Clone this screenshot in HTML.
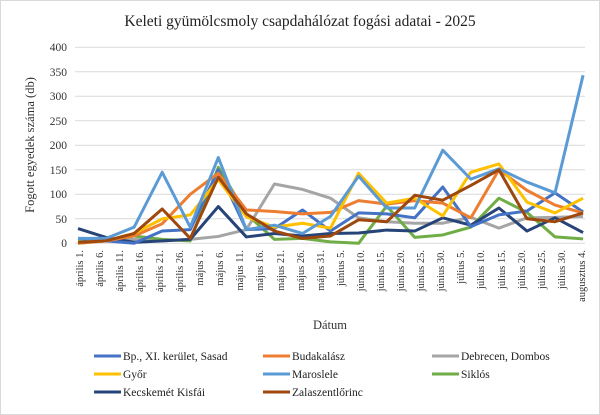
<!DOCTYPE html>
<html><head><meta charset="utf-8"><style>
html,body{margin:0;padding:0;background:#fff;}
svg{display:block;font-family:"Liberation Serif",serif;}
</style></head><body>
<svg width="600" height="415" viewBox="0 0 600 415" xmlns="http://www.w3.org/2000/svg">
<rect x="0.5" y="0.5" width="599" height="414" fill="#fff" stroke="#d9d9d9"/>
<text x="300" y="26" font-size="15.5" text-anchor="middle" fill="#222">Keleti gyümölcsmoly csapdahálózat fogási adatai - 2025</text>
<g stroke="#d9d9d9" stroke-width="1">
<line x1="75" x2="585" y1="47.3" y2="47.3"/><line x1="75" x2="585" y1="71.8" y2="71.8"/>
<line x1="75" x2="585" y1="96.3" y2="96.3"/><line x1="75" x2="585" y1="120.8" y2="120.8"/>
<line x1="75" x2="585" y1="145.3" y2="145.3"/><line x1="75" x2="585" y1="169.8" y2="169.8"/>
<line x1="75" x2="585" y1="194.3" y2="194.3"/><line x1="75" x2="585" y1="218.8" y2="218.8"/>
<line x1="75" x2="585" y1="243.3" y2="243.3"/>
</g>
<g font-size="11.5" text-anchor="end" fill="#333">
<text x="67" y="51">400</text><text x="67" y="76">350</text><text x="67" y="100">300</text>
<text x="67" y="125">250</text><text x="67" y="149">200</text><text x="67" y="174">150</text>
<text x="67" y="198">100</text><text x="67" y="223">50</text><text x="67" y="247">0</text>
</g>
<text transform="translate(34,145) rotate(-90)" font-size="12.5" text-anchor="middle" fill="#333">Fogott egyedek száma (db)</text>
<g font-size="10.5" text-anchor="end" fill="#333">
<text transform="translate(83,250) rotate(-90)">április 1.</text>
<text transform="translate(103,250) rotate(-90)">április 6.</text>
<text transform="translate(123,250) rotate(-90)">április 11.</text>
<text transform="translate(143,250) rotate(-90)">április 16.</text>
<text transform="translate(163,250) rotate(-90)">április 21.</text>
<text transform="translate(183,250) rotate(-90)">április 26.</text>
<text transform="translate(203,250) rotate(-90)">május 1.</text>
<text transform="translate(223,250) rotate(-90)">május 6.</text>
<text transform="translate(243,250) rotate(-90)">május 11.</text>
<text transform="translate(263,250) rotate(-90)">május 16.</text>
<text transform="translate(284,250) rotate(-90)">május 21.</text>
<text transform="translate(304,250) rotate(-90)">május 26.</text>
<text transform="translate(324,250) rotate(-90)">május 31.</text>
<text transform="translate(344,250) rotate(-90)">június 5.</text>
<text transform="translate(364,250) rotate(-90)">június 10.</text>
<text transform="translate(384,250) rotate(-90)">június 15.</text>
<text transform="translate(404,250) rotate(-90)">június 20.</text>
<text transform="translate(424,250) rotate(-90)">június 25.</text>
<text transform="translate(444,250) rotate(-90)">június 30.</text>
<text transform="translate(464,250) rotate(-90)">július 5.</text>
<text transform="translate(484,250) rotate(-90)">július 10.</text>
<text transform="translate(505,250) rotate(-90)">július 15.</text>
<text transform="translate(525,250) rotate(-90)">július 20.</text>
<text transform="translate(545,250) rotate(-90)">július 25.</text>
<text transform="translate(565,250) rotate(-90)">július 30.</text>
<text transform="translate(585,250) rotate(-90)">augusztus 4.</text>
</g>
<text x="330" y="329" font-size="12.5" text-anchor="middle" fill="#333">Dátum</text>
<g transform="matrix(28.06,0,0,-0.49,78,243.3)" fill="none" stroke-width="3" stroke-linejoin="round">
<polyline vector-effect="non-scaling-stroke" stroke-width="3" stroke="#A5A5A5" points="0,0 1,5 2,8 3,5 4,8 5,14 6,28 7,121 8,110 9,92 10,52 11,44 12,41 13,41 14,53 15,31 16,52 17,53 18,55"/>
<polyline vector-effect="non-scaling-stroke" stroke-width="3" stroke="#70AD47" points="0,5 1,5 2,15 3,8 4,5 5,155 6,60 7,8 8,10 9,3 10,0 11,76 12,12 13,17 14,33 15,92 16,63 17,13 18,9"/>
<polyline vector-effect="non-scaling-stroke" stroke-width="3" stroke="#264478" points="0,30 1,12 2,2 3,5 4,8 5,75 6,13 7,20 8,15 9,20 10,21 11,27 12,25 13,52 14,37 15,72 16,25 17,52 18,22"/>
<polyline vector-effect="non-scaling-stroke" stroke-width="3" stroke="#4472C4" points="0,10 1,5 2,0 3,25 4,28 5,150 6,28 7,30 8,68 9,25 10,62 11,60 12,52 13,115 14,34 15,58 16,66 17,103 18,64"/>
<polyline vector-effect="non-scaling-stroke" stroke-width="3" stroke="#ED7D31" points="0,0 1,5 2,15 3,40 4,100 5,143 6,68 7,65 8,60 9,63 10,87 11,80 12,87 13,82 14,52 15,150 16,108 17,78 18,62"/>
<polyline vector-effect="non-scaling-stroke" stroke-width="3" stroke="#FFC000" points="0,2 1,5 2,20 3,50 4,58 5,130 6,54 7,33 8,41 9,31 10,143 11,82 12,92 13,56 14,145 15,162 16,84 17,62 18,92"/>
<polyline vector-effect="non-scaling-stroke" stroke-width="3" stroke="#5B9BD5" points="0,10 1,10 2,33 3,145 4,33 5,175 6,28 7,37 8,20 9,55 10,137 11,72 12,72 13,190 14,131 15,152 16,125 17,103 18,343"/>
<polyline vector-effect="non-scaling-stroke" stroke-width="3" stroke="#9E480E" points="0,2 1,5 2,20 3,70 4,10 5,135 6,60 7,25 8,10 9,15 10,48 11,44 12,98 13,88 14,118 15,150 16,50 17,44 18,62"/>
</g>
<g stroke-width="3" font-size="11.5" fill="#222">
<line x1="94" x2="121" y1="356" y2="356" stroke="#4472C4"/><text x="123" y="360" stroke="none">Bp., XI. kerület, Sasad</text>
<line x1="263" x2="290" y1="356" y2="356" stroke="#ED7D31"/><text x="292" y="360" stroke="none">Budakalász</text>
<line x1="432" x2="459" y1="356" y2="356" stroke="#A5A5A5"/><text x="461" y="360" stroke="none">Debrecen, Dombos</text>
<line x1="94" x2="121" y1="374" y2="374" stroke="#FFC000"/><text x="123" y="378" stroke="none">Győr</text>
<line x1="263" x2="290" y1="374" y2="374" stroke="#5B9BD5"/><text x="292" y="378" stroke="none">Maroslele</text>
<line x1="432" x2="459" y1="374" y2="374" stroke="#70AD47"/><text x="461" y="378" stroke="none">Siklós</text>
<line x1="94" x2="121" y1="392" y2="392" stroke="#264478"/><text x="123" y="396" stroke="none">Kecskemét Kisfái</text>
<line x1="263" x2="290" y1="392" y2="392" stroke="#9E480E"/><text x="292" y="396" stroke="none">Zalaszentlőrinc</text>
</g>
</svg>
</body></html>
